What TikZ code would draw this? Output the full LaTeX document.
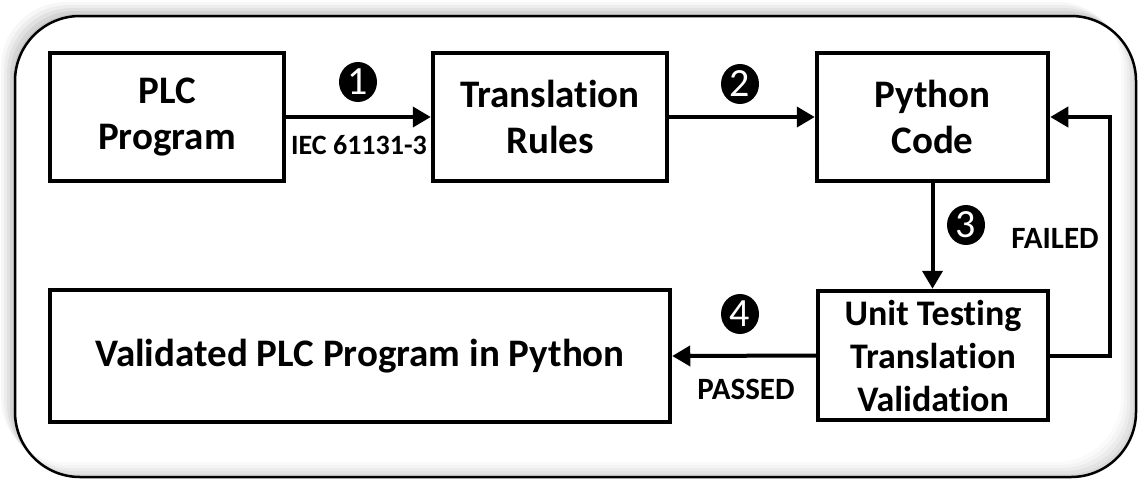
\documentclass[tikz,border=0pt]{standalone}
\usepackage{fontspec}
\setmainfont{Carlito}[Ligatures=NoCommon]
\usetikzlibrary{arrows.meta,shapes.geometric}
\tikzset{
  box/.style={draw, line width=4.5pt, rectangle, align=center, inner sep=0pt,
    font=\bfseries\fontsize{39}{46}\selectfont},
  arr/.style={line width=4pt, -{Triangle[length=18pt,width=20pt]}},
  num/.style={ellipse, fill=black, text=white, inner sep=0pt, minimum width=38pt,
    minimum height=40pt, font=\fontsize{40}{40}\selectfont},
  lbl/.style={font=\bfseries\fontsize{31}{33}\selectfont, inner sep=0pt}
}
\begin{document}
\begin{tikzpicture}[x=1pt,y=-1pt]
\useasboundingbox (0,0) rectangle (1139,480);
% outer shadow (top-left)
\foreach \k/\o in {14/0.03,11/0.04,8/0.05,5/0.06,2/0.07}{
  \fill[black, opacity=\o, rounded corners=65pt, xshift=-\k pt, yshift=\k pt] (15,16) rectangle (1136,477);
}
\fill[white, rounded corners=65pt] (15,16) rectangle (1136,477);
% inner shading (bottom-right)
\begin{scope}
  \clip[rounded corners=65pt] (15,16) rectangle (1136,477);
  \fill[gray!30] (0,0) rectangle (1139,480);
  \foreach \k/\c in {3/gray!22,6/gray!15,9/gray!9,12/gray!4,15/white}{
    \fill[\c, rounded corners=65pt, xshift=-\k pt, yshift=\k pt] (15,16) rectangle (1136,477);
  }
\end{scope}
\draw[line width=2.5pt, rounded corners=65pt] (15,16) rectangle (1136,477);

% boxes
\node[box, minimum width=234pt, minimum height=128pt] (plc) at (167,117) {PLC\\Program};
\node[box, minimum width=234pt, minimum height=128pt] (rules) at (550,117) {Translation\\Rules};
\node[box, minimum width=231pt, minimum height=128pt] (python) at (932.5,117) {Python\\Code};
\node[box, minimum width=230pt, minimum height=129pt, font=\bfseries\fontsize{36}{43}\selectfont] (unit) at (933,355.5) {Unit Testing\\Translation\\Validation};
\node[box, minimum width=620pt, minimum height=132pt] (valid) at (360,356) {Validated PLC Program in Python};

% connectors
\draw[arr] (plc.east) -- (rules.west);
\draw[arr] (rules.east) -- (python.west);
\draw[arr] (python.south) -- (python.south |- unit.north);
\draw[arr] (unit.east) -- ++(60,0) |- (python.east);
\draw[arr] (unit.west) -- (valid.east);

% labels
\node[num] (n1) at (358,82) {1};
\node[num] (n2) at (740,84) {2};
\node[num] (n3) at (966,225) {3};
\node[num] (n4) at (740,314) {4};
\node[lbl, font=\bfseries\fontsize{28}{30}\selectfont] (iec) at (359,145) {IEC 61131-3};
\node[lbl] (failed) at (1055,238) {FAILED};
\node[lbl] (passed) at (746,389) {PASSED};
\end{tikzpicture}
\end{document}
